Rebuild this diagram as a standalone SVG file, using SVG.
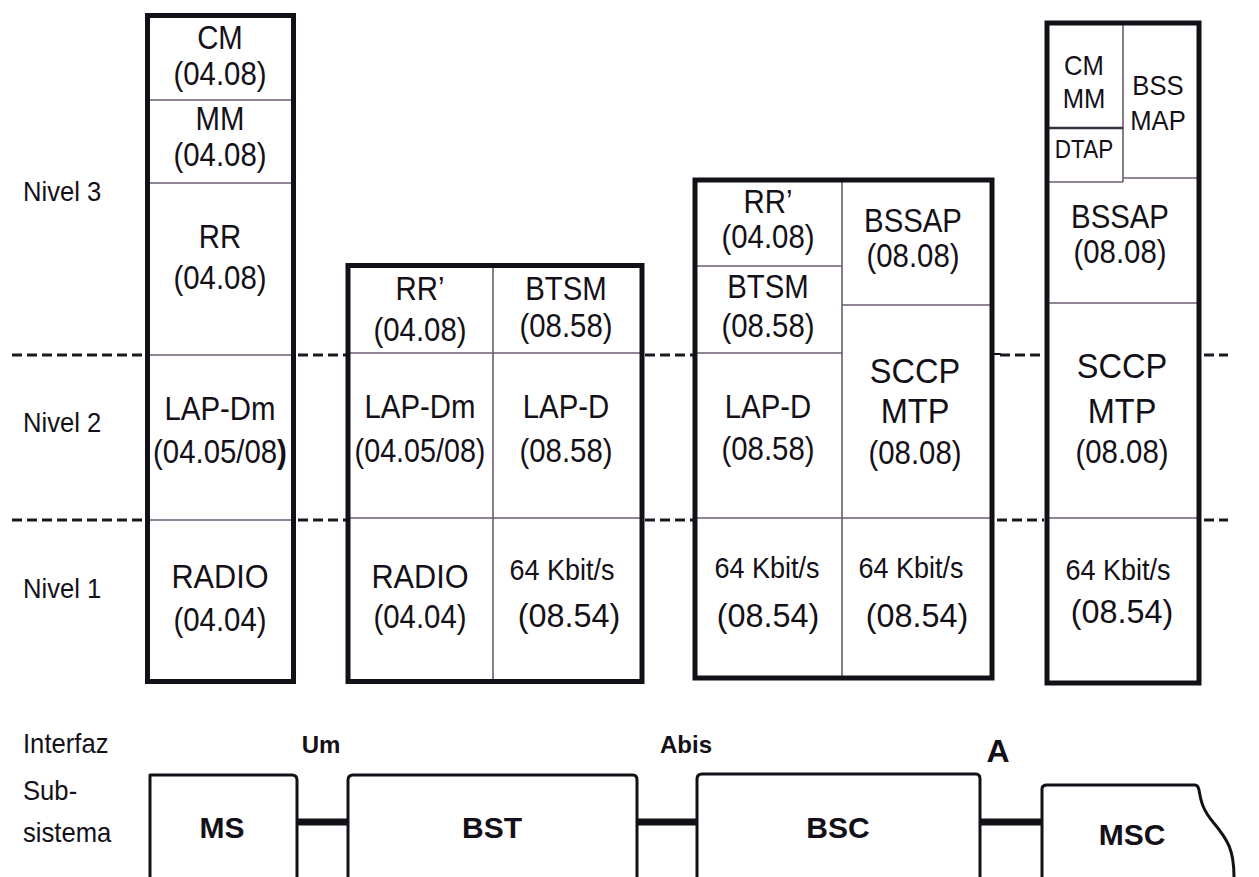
<svg xmlns="http://www.w3.org/2000/svg" width="1259" height="877" viewBox="0 0 1259 877">
<style>
  .frame { fill: none; stroke: #141018; stroke-width: 5; }
  .div { stroke: #6a5c70; stroke-width: 1.6; fill: none; }
  .dash { stroke: #1c1820; stroke-width: 3; stroke-dasharray: 10 5; fill: none; }
  .box { fill: none; stroke: #141018; stroke-width: 3; stroke-linecap: round; stroke-linejoin: round; }
  .link { stroke: #141018; stroke-width: 7; }
  text { font-family: "Liberation Sans", Arial, sans-serif; fill: #141018; text-anchor: middle; }
  .t { font-size: 33px; }
  .k { font-size: 30px; }
  .n { font-size: 33px; }
  .s { font-size: 35px; }
  .m { font-size: 27px; }
  .l { font-size: 27px; text-anchor: start; }
  .b { font-size: 30px; font-weight: bold; }
  .bi { font-size: 24px; font-weight: bold; }
</style>
<rect width="1259" height="877" fill="#ffffff"/>

<g id="connectors">
  <line class="dash" x1="12" y1="355" x2="145" y2="355"/>
  <line class="dash" x1="298" y1="355" x2="346" y2="355"/>
  <line class="dash" x1="645" y1="355" x2="693" y2="355"/>
  <line class="dash" x1="1000" y1="355" x2="1044" y2="355"/>
  <line class="dash" x1="1204" y1="355" x2="1228" y2="355"/>
  <line x1="993" y1="354" x2="1001" y2="354" stroke="#141018" stroke-width="2"/>
  <line class="dash" x1="12" y1="520" x2="145" y2="520"/>
  <line class="dash" x1="298" y1="520" x2="346" y2="520"/>
  <line class="dash" x1="645" y1="520" x2="693" y2="520"/>
  <line class="dash" x1="997" y1="520" x2="1044" y2="520"/>
  <line class="dash" x1="1204" y1="520" x2="1228" y2="520"/>
  <line class="link" x1="297" y1="822" x2="348" y2="822"/>
  <line class="link" x1="637" y1="822" x2="697" y2="822"/>
  <line class="link" x1="980" y1="822" x2="1042" y2="822"/>
</g>

<g id="levels">
  <text class="l" transform="translate(23,201) scale(0.95,1)">Nivel 3</text>
  <text class="l" transform="translate(23,432) scale(0.95,1)">Nivel 2</text>
  <text class="l" transform="translate(23,598) scale(0.95,1)">Nivel 1</text>
  <text class="l" transform="translate(23,753) scale(0.95,1)">Interfaz</text>
  <text class="l" transform="translate(23,800) scale(0.95,1)">Sub-</text>
  <text class="l" transform="translate(23,842) scale(0.95,1)">sistema</text>
</g>

<g id="stack-ms">
  <line class="div" x1="148" y1="100" x2="293" y2="100"/>
  <line class="div" x1="148" y1="183" x2="293" y2="183"/>
  <line class="div" x1="148" y1="355" x2="293" y2="355"/>
  <line class="div" x1="148" y1="520" x2="293" y2="520"/>
  <rect class="frame" x="147.5" y="15.5" width="146" height="666"/>
  <text class="t" transform="translate(220,49) scale(0.89,1)">CM</text>
  <text class="t" transform="translate(220,85) scale(0.89,1)">(04.08)</text>
  <text class="t" transform="translate(220,130) scale(0.89,1)">MM</text>
  <text class="t" transform="translate(220,166) scale(0.89,1)">(04.08)</text>
  <text class="t" transform="translate(220,248) scale(0.89,1)">RR</text>
  <text class="t" transform="translate(220,289) scale(0.89,1)">(04.08)</text>
  <text class="t" transform="translate(220,420) scale(0.89,1)">LAP-Dm</text>
  <text class="t" transform="translate(220,463) scale(0.89,1)">(04.05/08<tspan font-weight="bold">)</tspan></text>
  <text class="t" transform="translate(220,588) scale(0.93,1)">RADIO</text>
  <text class="t" transform="translate(220,631) scale(0.89,1)">(04.04)</text>
</g>

<g id="stack-bst">
  <line class="div" x1="349" y1="353" x2="641" y2="353"/>
  <line class="div" x1="349" y1="518" x2="641" y2="518"/>
  <line class="div" x1="493" y1="266" x2="493" y2="681"/>
  <rect class="frame" x="348" y="265.5" width="294" height="416"/>
  <text class="t" transform="translate(420,300) scale(0.89,1)">RR’</text>
  <text class="t" transform="translate(420,341) scale(0.89,1)">(04.08)</text>
  <text class="t" transform="translate(566,300) scale(0.89,1)">BTSM</text>
  <text class="t" transform="translate(566,337) scale(0.89,1)">(08.58)</text>
  <text class="t" transform="translate(420,418) scale(0.89,1)">LAP-Dm</text>
  <text class="t" transform="translate(420,462) scale(0.87,1)">(04.05/08)</text>
  <text class="t" transform="translate(566,418) scale(0.89,1)">LAP-D</text>
  <text class="t" transform="translate(566,462) scale(0.89,1)">(08.58)</text>
  <text class="t" transform="translate(420,588) scale(0.93,1)">RADIO</text>
  <text class="t" transform="translate(420,628) scale(0.89,1)">(04.04)</text>
  <text class="k" transform="translate(562,580) scale(0.9,1)">64 Kbit/s</text>
  <text class="n" transform="translate(569,627) scale(0.98,1)">(08.54)</text>
</g>

<g id="stack-bsc">
  <line class="div" x1="696" y1="266" x2="842" y2="266"/>
  <line class="div" x1="696" y1="353" x2="842" y2="353"/>
  <line class="div" x1="842" y1="305" x2="991" y2="305"/>
  <line class="div" x1="696" y1="518" x2="991" y2="518"/>
  <line class="div" x1="842" y1="181" x2="842" y2="677"/>
  <rect class="frame" x="695" y="180" width="297" height="498"/>
  <text class="t" transform="translate(768,213) scale(0.89,1)">RR’</text>
  <text class="t" transform="translate(768,248) scale(0.89,1)">(04.08)</text>
  <text class="t" transform="translate(768,298) scale(0.89,1)">BTSM</text>
  <text class="t" transform="translate(768,337) scale(0.89,1)">(08.58)</text>
  <text class="t" transform="translate(768,418) scale(0.89,1)">LAP-D</text>
  <text class="t" transform="translate(768,460) scale(0.89,1)">(08.58)</text>
  <text class="t" transform="translate(913,232) scale(0.89,1)">BSSAP</text>
  <text class="t" transform="translate(913,267) scale(0.89,1)">(08.08)</text>
  <text class="s" transform="translate(915,383) scale(0.93,1)">SCCP</text>
  <text class="s" transform="translate(915,423) scale(0.93,1)">MTP</text>
  <text class="t" transform="translate(915,464) scale(0.89,1)">(08.08)</text>
  <text class="k" transform="translate(767,578) scale(0.9,1)">64 Kbit/s</text>
  <text class="n" transform="translate(768,627) scale(0.98,1)">(08.54)</text>
  <text class="k" transform="translate(911,578) scale(0.9,1)">64 Kbit/s</text>
  <text class="n" transform="translate(917,627) scale(0.98,1)">(08.54)</text>
</g>

<g id="stack-msc">
  <line class="div" x1="1123" y1="24" x2="1123" y2="182"/>
  <line x1="1048" y1="128" x2="1123" y2="128" stroke="#3a3040" stroke-width="2.5"/>
  <line class="div" x1="1048" y1="182" x2="1123" y2="182"/>
  <line class="div" x1="1123" y1="178" x2="1198" y2="178"/>
  <line class="div" x1="1048" y1="303" x2="1198" y2="303"/>
  <line class="div" x1="1048" y1="518" x2="1198" y2="518"/>
  <rect class="frame" x="1047" y="23" width="152" height="660"/>
  <text class="m" transform="translate(1084,75) scale(0.95,1)">CM</text>
  <text class="m" transform="translate(1084,108) scale(0.95,1)">MM</text>
  <text class="m" transform="translate(1084,158) scale(0.9,1)" style="font-size:25px">DTAP</text>
  <text class="m" transform="translate(1158,95) scale(0.95,1)">BSS</text>
  <text class="m" transform="translate(1158,130) scale(0.95,1)">MAP</text>
  <text class="t" transform="translate(1120,228) scale(0.89,1)">BSSAP</text>
  <text class="t" transform="translate(1120,263) scale(0.89,1)">(08.08)</text>
  <text class="s" transform="translate(1122,378) scale(0.93,1)">SCCP</text>
  <text class="s" transform="translate(1122,423) scale(0.93,1)">MTP</text>
  <text class="t" transform="translate(1122,463) scale(0.89,1)">(08.08)</text>
  <text class="k" transform="translate(1118,580) scale(0.9,1)">64 Kbit/s</text>
  <text class="n" transform="translate(1122,623) scale(0.98,1)">(08.54)</text>
</g>

<g id="interfaces">
  <text class="bi" transform="translate(321,753)">Um</text>
  <text class="bi" transform="translate(686,753)">Abis</text>
  <text class="b" transform="translate(998,762)" style="font-size:32px">A</text>
</g>

<g id="node-ms">
  <path class="box" d="M150,877 V775 H292 Q297,775 297,780 V877"/>
  <text class="b" transform="translate(222,838)">MS</text>
</g>
<g id="node-bst">
  <path class="box" d="M348,877 V780 Q348,775 353,775 H633 Q637,775 637,780 V877"/>
  <text class="b" transform="translate(492,838)">BST</text>
</g>
<g id="node-bsc">
  <path class="box" d="M697,877 V779 Q697,774 702,774 H976 Q980,774 980,779 V877"/>
  <text class="b" transform="translate(838,838)">BSC</text>
</g>
<g id="node-msc">
  <path class="box" d="M1042,877 V789 Q1042,785 1047,785 H1195 Q1198,785 1199,790 C1201,802 1203,810 1213,822 C1228,840 1234,850 1234,877"/>
  <text class="b" transform="translate(1132,845)">MSC</text>
</g>
</svg>
